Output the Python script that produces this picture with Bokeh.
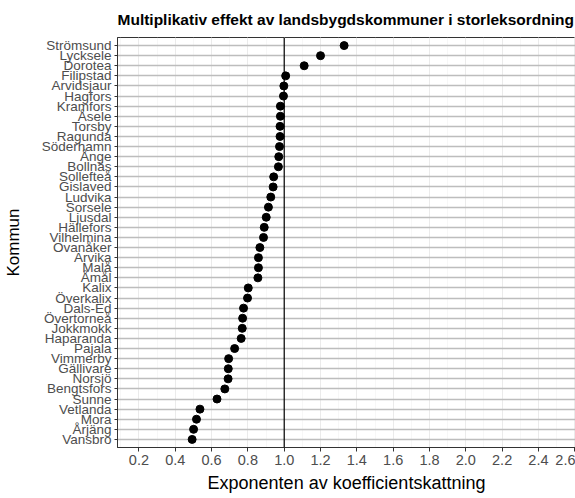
from bokeh.plotting import figure
from bokeh.models import FactorRange, Range1d, Span, SingleIntervalTicker, PrintfTickFormatter
from bokeh.embed import file_html
from bokeh.resources import INLINE

# Municipalities ordered from largest to smallest effect (top to bottom)
kommuner = [
    "Strömsund", "Lycksele", "Dorotea", "Filipstad", "Arvidsjaur", "Hagfors",
    "Kramfors", "Åsele", "Torsby", "Ragunda", "Söderhamn", "Ånge", "Bollnäs",
    "Sollefteå", "Gislaved", "Ludvika", "Sorsele", "Ljusdal", "Hällefors",
    "Vilhelmina", "Ovanåker", "Arvika", "Malå", "Åmål", "Kalix", "Överkalix",
    "Dals-Ed", "Övertorneå", "Jokkmokk", "Haparanda", "Pajala", "Vimmerby",
    "Gällivare", "Norsjö", "Bengtsfors", "Sunne", "Vetlanda", "Mora", "Årjäng",
    "Vansbro",
]
effekt = [
    1.33, 1.20, 1.11, 1.008, 0.998, 0.996,
    0.979, 0.979, 0.977, 0.977, 0.974, 0.970, 0.968,
    0.942, 0.939, 0.926, 0.913, 0.901, 0.890,
    0.886, 0.866, 0.858, 0.858, 0.855, 0.802, 0.798,
    0.776, 0.771, 0.769, 0.763, 0.727, 0.694,
    0.692, 0.691, 0.673, 0.630, 0.536, 0.517, 0.501,
    0.493,
]

x_start, x_end = 0.082, 2.604
ref_value = 1.0

# 0.6 of a category step of padding on each side
y_range = FactorRange(factors=list(reversed(kommuner)), range_padding=0.015)

p = figure(
    width=575, height=498,
    y_range=y_range, x_range=Range1d(x_start, x_end),
    output_backend="svg", toolbar_location=None,
    min_border_left=116, min_border_right=0, min_border_top=37, min_border_bottom=51,
    title="Multiplikativ effekt av landsbygdskommuner i storleksordning",
)

font = "Liberation Sans"
p.title.text_font = font
p.title.text_font_size = "15.5px"
p.title.text_font_style = "bold"
p.title.text_color = "#000000"
p.title.align = "left"
p.title.padding = dict(left=0, right=0, top=0, bottom=5)

p.background_fill_color = "white"
p.border_fill_color = "white"
p.outline_line_color = "#333333"
p.outline_line_width = 1

# x axis
xa = p.xaxis[0]
xa.ticker = SingleIntervalTicker(interval=0.2, num_minor_ticks=2)
xa.formatter = PrintfTickFormatter(format="%.1f")
xa.axis_label = "Exponenten av koefficientskattning"
xa.axis_label_text_font = font
xa.axis_label_text_font_size = "18px"
xa.axis_label_text_font_style = "normal"
xa.axis_label_text_color = "#000000"
xa.axis_label_standoff = 5
xa.major_label_text_font = font
xa.major_label_text_font_size = "14.5px"
xa.major_label_text_color = "#4D4D4D"
xa.major_label_standoff = 3
xa.major_tick_out = 4
xa.major_tick_in = 0
xa.minor_tick_out = 0
xa.minor_tick_in = 0
xa.major_tick_line_color = "#333333"
xa.axis_line_color = "#333333"

# y axis
ya = p.yaxis[0]
ya.axis_label = "Kommun"
ya.axis_label_text_font = font
ya.axis_label_text_font_size = "17px"
ya.axis_label_text_font_style = "normal"
ya.axis_label_text_color = "#000000"
ya.axis_label_standoff = 16
ya.major_label_text_font = font
ya.major_label_text_font_size = "13.5px"
ya.major_label_text_color = "#4D4D4D"
ya.major_label_standoff = 3
ya.major_tick_out = 3
ya.major_tick_in = 0
ya.major_tick_line_color = "#333333"
ya.axis_line_color = "#333333"

# grid
p.xgrid.grid_line_color = "#EBEBEB"
p.xgrid.grid_line_width = 1
p.xgrid.minor_grid_line_color = "#F2F2F2"
p.xgrid.minor_grid_line_width = 0.6
p.ygrid.grid_line_color = "#BDBDBD"
p.ygrid.grid_line_width = 1.3

# reference line at no effect
p.add_layout(Span(location=ref_value, dimension="height", line_color="black", line_width=1.2))

p.scatter(x=effekt, y=kommuner, size=8, color="black")

open("out.html", "w").write(file_html(p, INLINE))
